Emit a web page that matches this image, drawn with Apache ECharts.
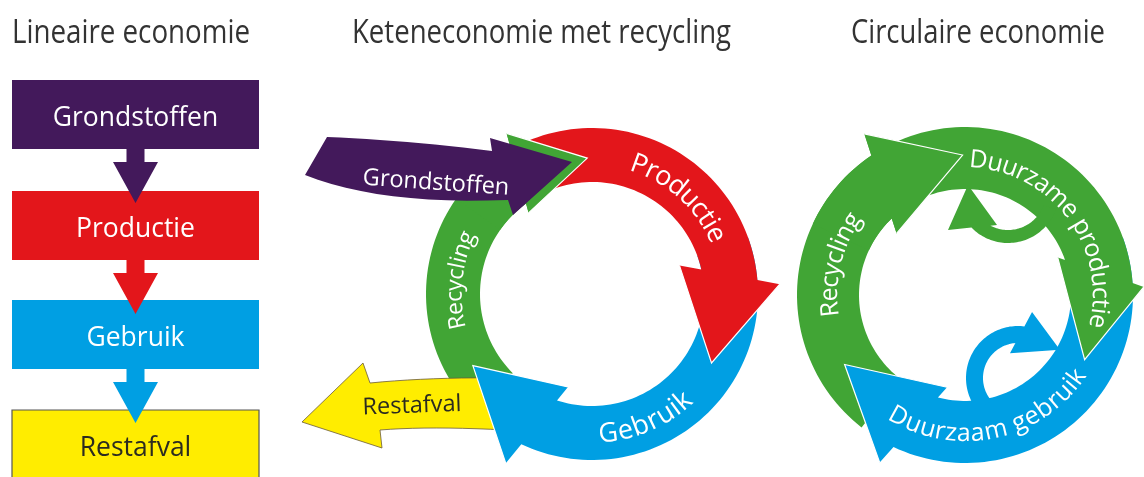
<!DOCTYPE html>
<html>
<head>
<meta charset="utf-8">
<script src="https://cdn.jsdelivr.net/npm/echarts@6/dist/echarts.min.js"></script>
<style>
  html, body { margin: 0; background: #fff; }
  #chart { width: 1144px; height: 477px; }
</style>
</head>
<body>
<div id="chart"></div>
<script>
// ---- data ----
const panelTitles = ['Lineaire economie', 'Keteneconomie met recycling', 'Circulaire economie'];
const linearSteps = ['Grondstoffen', 'Productie', 'Gebruik', 'Restafval'];
const chainFlows = ['Productie', 'Gebruik', 'Recycling'];
const chainInOut = ['Grondstoffen', 'Restafval'];
const circularFlows = ['Duurzame productie', 'Duurzaam gebruik', 'Recycling'];
const smallLoops = ['productie', 'gebruik'];

// ---- colours ----
const PURPLE = '#43195b';
const RED = '#e3161b';
const BLUE = '#009fe3';
const GREEN = '#41a535';
const YELLOW = '#ffed00';
const stepColors = [PURPLE, RED, BLUE, YELLOW];

const FONT = '"Open Sans", "Noto Sans", sans-serif';
const meas = document.createElement('canvas').getContext('2d');
function textWidth(s, font) {
  meas.font = font;
  return meas.measureText(s).width;
}

// ---- geometry helpers (data space = pixel space, y down) ----
function arcPt(cx, cy, r, deg) {
  const a = deg * Math.PI / 180;
  return [cx + r * Math.cos(a), cy + r * Math.sin(a)];
}
function exitAngle(p, q, c, r, near) {
  const dx = q[0] - p[0], dy = q[1] - p[1];
  const fx = p[0] - c[0], fy = p[1] - c[1];
  const a = dx * dx + dy * dy, b = 2 * (fx * dx + fy * dy), cc = fx * fx + fy * fy - r * r;
  const t = (-b + Math.sqrt(Math.max(0, b * b - 4 * a * cc))) / (2 * a);
  let deg = Math.atan2(p[1] + t * dy - c[1], p[0] + t * dx - c[0]) * 180 / Math.PI;
  while (deg < near - 180) deg += 360;
  while (deg > near + 180) deg -= 360;
  return deg;
}
function ringArrow(g, a0, h) {
  const c = [g.cx, g.cy];
  const pi = arcPt(g.cx, g.cy, h.ir, h.ia);
  const po = arcPt(g.cx, g.cy, h.or, h.oa);
  const tip = arcPt(g.cx, g.cy, h.tr, h.ta);
  const aOut = exitAngle(pi, po, c, g.rOut, h.oa);
  const aIn = exitAngle(pi, po, c, g.rIn, h.ia);
  const pts = [];
  const n = Math.max(2, Math.ceil((aOut - a0) / 2));
  for (let i = 0; i <= n; i++) pts.push(arcPt(g.cx, g.cy, g.rOut, a0 + (aOut - a0) * i / n));
  pts.push(po, tip, pi);
  const m = Math.max(2, Math.ceil((aIn - a0) / 2));
  for (let i = 0; i <= m; i++) pts.push(arcPt(g.cx, g.cy, g.rIn, aIn - (aIn - a0) * i / m));
  return { body: pts, outline: [po, tip, pi] };
}
function quad(p0, c, p1, n) {
  const out = [];
  for (let i = 0; i <= n; i++) {
    const t = i / n, u = 1 - t;
    out.push([u * u * p0[0] + 2 * u * t * c[0] + t * t * p1[0], u * u * p0[1] + 2 * u * t * c[1] + t * t * p1[1]]);
  }
  return out;
}

// ---- layout ----
const titlePos = [[12, 238], [352, 379], [851, 254]];
const box = { x: 12, w: 247, h: 69, tops: [80, 191, 300, 410] };
const midRing = { cx: 592, cy: 294, rIn: 112, rOut: 166 };
const rightRing = { cx: 965, cy: 295, rIn: 106, rOut: 168 };

const chainArrows = {
  Productie: { a0: -115, head: { ia: -18, ir: 92, oa: -3, or: 188, ta: 30, tr: 138 }, color: RED },
  Gebruik: { a0: -20, head: { ia: 104.5, ir: 96, oa: 117, or: 190, ta: 149, tr: 139 }, color: BLUE },
  Recycling: { a0: 135, head: { ia: 232, ir: 103, oa: 242, or: 182, ta: 268, tr: 136 }, color: GREEN }
};
const chainText = {
  Productie: { mid: -48, dir: 1, size: 27 },
  Gebruik: { mid: 67, dir: -1, size: 27 },
  Recycling: { mid: 186, dir: 1, size: 23 }
};
const circArrows = {
  'Duurzame productie': { a0: -115, head: { ia: -22, ir: 100, oa: -2.6, or: 179, ta: 28.4, tr: 136 }, color: GREEN },
  'Duurzaam gebruik': { a0: -20, head: { ia: 101, ir: 94, oa: 117, or: 188, ta: 150, tr: 139 }, color: BLUE },
  Recycling: { a0: 128, head: { ia: 222, ir: 92, oa: 238, or: 190, ta: 269, tr: 140 }, color: GREEN }
};
const circText = {
  'Duurzame productie': { mid: -37, dir: 1, size: 25 },
  'Duurzaam gebruik': { mid: 78, dir: -1, size: 25 },
  Recycling: { mid: 193.5, dir: 1, size: 25 }
};
const loopGeom = {
  productie: { ring: { cx: 1008, cy: 192, rIn: 38, rOut: 51 }, a0: 20,
    head: { ia: 108.4, ir: 34.8, oa: 147.7, or: 71, ta: 190, tr: 40.6 }, color: GREEN },
  gebruik: { ring: { cx: 1018, cy: 378, rIn: 35, rOut: 52 }, a0: 140,
    head: { ia: 252, ir: 26, oa: 282, or: 67.5, ta: 326, tr: 50.5 }, color: BLUE }
};

// ---- marks, in drawing order ----
const marks = [];
panelTitles.forEach((t, i) => marks.push({ kind: 'title', text: t, i }));
linearSteps.forEach((s, i) => marks.push({ kind: 'box', text: s, i }));
linearSteps.slice(0, 3).forEach((s, i) => marks.push({ kind: 'connector', i }));

// chain: green (full), yellow out-arrow, blue, red, green head again, purple in-arrow
marks.push({ kind: 'ring', ring: midRing, spec: chainArrows.Recycling });
marks.push({ kind: 'outArrow', text: chainInOut[1] });
marks.push({ kind: 'ring', ring: midRing, spec: chainArrows.Gebruik });
marks.push({ kind: 'ring', ring: midRing, spec: chainArrows.Productie });
marks.push({ kind: 'ring', ring: midRing, spec: chainArrows.Recycling, from: 215 });
marks.push({ kind: 'inArrow', text: chainInOut[0] });
chainFlows.forEach(f => marks.push({ kind: 'arcText', ring: midRing, text: f, t: chainText[f] }));

// circular: recycling, blue, productie, recycling head again, small loops
marks.push({ kind: 'ring', ring: rightRing, spec: circArrows.Recycling });
marks.push({ kind: 'ring', ring: rightRing, spec: circArrows['Duurzaam gebruik'] });
marks.push({ kind: 'ring', ring: rightRing, spec: circArrows['Duurzame productie'] });
marks.push({ kind: 'ring', ring: rightRing, spec: circArrows.Recycling, from: 205 });
smallLoops.forEach(l => marks.push({ kind: 'ring', ring: loopGeom[l].ring, spec: loopGeom[l], plain: true }));
circularFlows.forEach(f => marks.push({ kind: 'arcText', ring: rightRing, text: f, t: circText[f] }));

// ---- renderers ----
function polyEl(api, pts, style) {
  return { type: 'polygon', shape: { points: pts.map(p => api.coord(p)) }, style };
}
function lineEl(api, pts, style) {
  return { type: 'polyline', shape: { points: pts.map(p => api.coord(p)) }, style };
}
function textEl(api, p, text, font, fill, rot, scaleX, align) {
  const c = api.coord(p);
  return {
    type: 'text', x: c[0], y: c[1], rotation: rot || 0, scaleX: scaleX || 1,
    style: {
      text, font, fill,
      align: align || 'center', verticalAlign: 'middle',
      textAlign: align || 'center', textVerticalAlign: 'middle'
    }
  };
}

function render(m, api) {
  const kids = [];
  if (m.kind === 'title') {
    const font = '32px ' + FONT;
    const [x, w] = titlePos[m.i];
    const sx = w / textWidth(m.text, font);
    kids.push(textEl(api, [x, 34], m.text, font, '#333', 0, sx, 'left'));
  } else if (m.kind === 'box') {
    const y0 = box.tops[m.i], y1 = m.i === 3 ? 482 : y0 + box.h;
    const last = m.i === 3;
    kids.push(polyEl(api, [[box.x, y0], [box.x + box.w, y0], [box.x + box.w, y1], [box.x, y1]],
      { fill: stepColors[m.i], stroke: last ? '#555' : null, lineWidth: last ? 1.2 : 0 }));
    kids.push(textEl(api, [box.x + box.w / 2, y0 + 38], m.text, '26.5px ' + FONT, last ? '#2b2b20' : '#fff'));
  } else if (m.kind === 'connector') {
    const cx = box.x + box.w / 2;
    const y = box.tops[m.i] + box.h;
    kids.push(polyEl(api, [[cx - 9, y - 1], [cx + 9, y - 1], [cx + 9, y + 13], [cx + 22.5, y + 13],
      [cx, y + 54], [cx - 22.5, y + 13], [cx - 9, y + 13]], { fill: stepColors[m.i] }));
  } else if (m.kind === 'ring') {
    const a = ringArrow(m.ring, m.from != null ? m.from : m.spec.a0, m.spec.head);
    kids.push(polyEl(api, a.body, { fill: m.spec.color }));
    if (!m.plain) kids.push(lineEl(api, a.outline, { stroke: '#fff', lineWidth: 1.2, fill: null }));
  } else if (m.kind === 'inArrow') {
    const pts = [].concat(
      quad([327, 137], [405, 140], [492, 151], 12),
      [[490, 138], [572, 162], [513, 215]],
      quad([508, 200], [380, 205], [305, 175], 12)
    );
    kids.push(polyEl(api, pts, { fill: PURPLE }));
    kids.push(textEl(api, [436, 183], m.text, '23.5px ' + FONT, '#fff', -4 * Math.PI / 180));
  } else if (m.kind === 'outArrow') {
    const pts = [].concat(
      [[302, 422], [363, 363]],
      quad([370, 383], [430, 377], [505, 378], 10),
      quad([505, 430], [430, 426], [380, 430], 10),
      [[382, 448]]
    );
    kids.push(polyEl(api, pts, { fill: YELLOW, stroke: '#6b5a3a', lineWidth: 0.8 }));
    kids.push(textEl(api, [412, 406], m.text, '23.5px ' + FONT, '#2b2b20', 2 * Math.PI / 180));
  } else if (m.kind === 'arcText') {
    const g = m.ring, t = m.t;
    const r = (g.rIn + g.rOut) / 2 - 2 * t.dir;
    const font = t.size + 'px ' + FONT;
    const chars = m.text.split('');
    const widths = chars.map(ch => textWidth(ch, font));
    const total = widths.reduce((s, w) => s + w, 0);
    const span = total / r * 180 / Math.PI;
    let cum = 0;
    chars.forEach((ch, k) => {
      const off = (cum + widths[k] / 2) / r * 180 / Math.PI;
      cum += widths[k];
      const deg = t.dir > 0 ? t.mid - span / 2 + off : t.mid + span / 2 - off;
      const a = deg * Math.PI / 180;
      const rot = t.dir > 0 ? Math.atan2(-Math.cos(a), -Math.sin(a)) : Math.atan2(Math.cos(a), Math.sin(a));
      if (ch !== ' ') kids.push(textEl(api, arcPt(g.cx, g.cy, r, deg), ch, font, '#fff', rot));
    });
  }
  return { type: 'group', children: kids };
}

const chart = echarts.init(document.getElementById('chart'), null, { renderer: 'canvas' });
chart.setOption({
  animation: false,
  backgroundColor: '#fff',
  grid: { left: 0, right: 0, top: 0, bottom: 0 },
  xAxis: { type: 'value', min: 0, max: 1144, show: false },
  yAxis: { type: 'value', min: 0, max: 477, inverse: true, show: false },
  series: [{
    type: 'custom',
    clip: false,
    silent: true,
    data: marks.map((m, i) => [i, 0]),
    renderItem: (params, api) => render(marks[params.dataIndex], api)
  }]
});
window.addEventListener('resize', () => chart.resize());
</script>
</body>
</html>
